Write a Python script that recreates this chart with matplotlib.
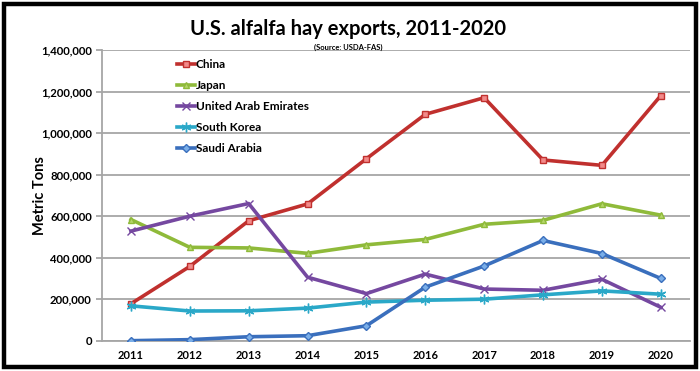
import matplotlib
matplotlib.use('Agg')
import matplotlib.pyplot as plt
from matplotlib.patches import Rectangle
from matplotlib.ticker import FuncFormatter

plt.rcParams['font.family'] = ['Lato', 'DejaVu Sans']

YEARS = ['2011', '2012', '2013', '2014', '2015', '2016', '2017', '2018', '2019', '2020']
CHINA = [178000, 358000, 578000, 659000, 877000, 1091000, 1171000, 871000, 845000, 1181000]
JAPAN = [584000, 450000, 447000, 421000, 462000, 488000, 561000, 580000, 660000, 605000]
UAE = [528000, 600000, 661000, 306000, 227000, 321000, 249000, 243000, 296000, 161000]
SOUTH_KOREA = [168000, 143000, 144000, 157000, 186000, 195000, 200000, 221000, 240000, 224000]
SAUDI = [0, 5000, 19000, 24000, 72000, 258000, 360000, 483000, 420000, 300000]

SERIES = [
    ('China', CHINA, '#c0302e', 's', '#f28a8a', 5),
    ('Japan', JAPAN, '#8fba3a', '^', '#b5d66a', 5),
    ('United Arab Emirates', UAE, '#7548a0', 'x', '#7548a0', 6),
    ('South Korea', SOUTH_KOREA, '#2aa8c8', (6, 2, 0), '#2aa8c8', 7),
    ('Saudi Arabia', SAUDI, '#3a6fbd', 'D', '#7aaee8', 4),
]

fig = plt.figure(figsize=(7.0, 3.71), dpi=100)
ax = fig.add_axes([0.145, 0.0817, 0.841, 0.783])

x = list(range(len(YEARS)))
for name, vals, col, mk, mfc, ms in SERIES:
    ax.plot(x, vals, color=col, lw=2.6, marker=mk, markersize=ms,
            markerfacecolor=mfc, markeredgecolor=col, markeredgewidth=1.0,
            label=name, zorder=3)

ax.set_xlim(-0.5, 9.5)
ax.set_ylim(0, 1400000)
ax.set_yticks(range(0, 1400001, 200000))
ax.yaxis.set_major_formatter(FuncFormatter(lambda v, p: f"{int(v):,}"))
ax.set_xticks(x)
ax.set_xticklabels(YEARS)
ax.grid(axis='y', color='#a6a6a6', lw=1.3)
ax.set_axisbelow(True)
for s in ['top', 'right']:
    ax.spines[s].set_visible(False)
ax.spines['left'].set_color('#a6a6a6')
ax.spines['bottom'].set_color('#a6a6a6')
ax.spines['left'].set_linewidth(1.3)
ax.spines['bottom'].set_linewidth(1.3)
ax.tick_params(axis='y', length=4, color='#a6a6a6', width=1.3, labelsize=8.2, pad=3)
ax.tick_params(axis='x', length=0, labelsize=8, pad=7)
for lab in ax.get_xticklabels() + ax.get_yticklabels():
    lab.set_fontweight('bold')

ax.set_ylabel('Metric Tons', fontsize=10.5, fontweight='bold', va='center')
ax.yaxis.set_label_coords(-0.104, 0.5)

leg = ax.legend(loc='upper left', bbox_to_anchor=(0.12, 0.985), frameon=False,
                prop={'size': 8.5, 'weight': 'bold'}, handlelength=1.5,
                handletextpad=0.1, labelspacing=0.85, borderaxespad=0)

fig.text(0.497, 0.922, 'U.S. alfalfa hay exports, 2011-2020', ha='center', va='center',
         fontsize=14.5, fontweight='bold')
fig.text(0.497, 0.873, '(Source: USDA-FAS)', ha='center', va='center',
         fontsize=5.5, fontweight='bold')

fig.patches.append(Rectangle((4 / 700, 4 / 371), 692 / 700, 363 / 371,
                             transform=fig.transFigure, fill=False,
                             edgecolor='black', lw=3.2, zorder=10))

fig.savefig('out.png', dpi=100)
